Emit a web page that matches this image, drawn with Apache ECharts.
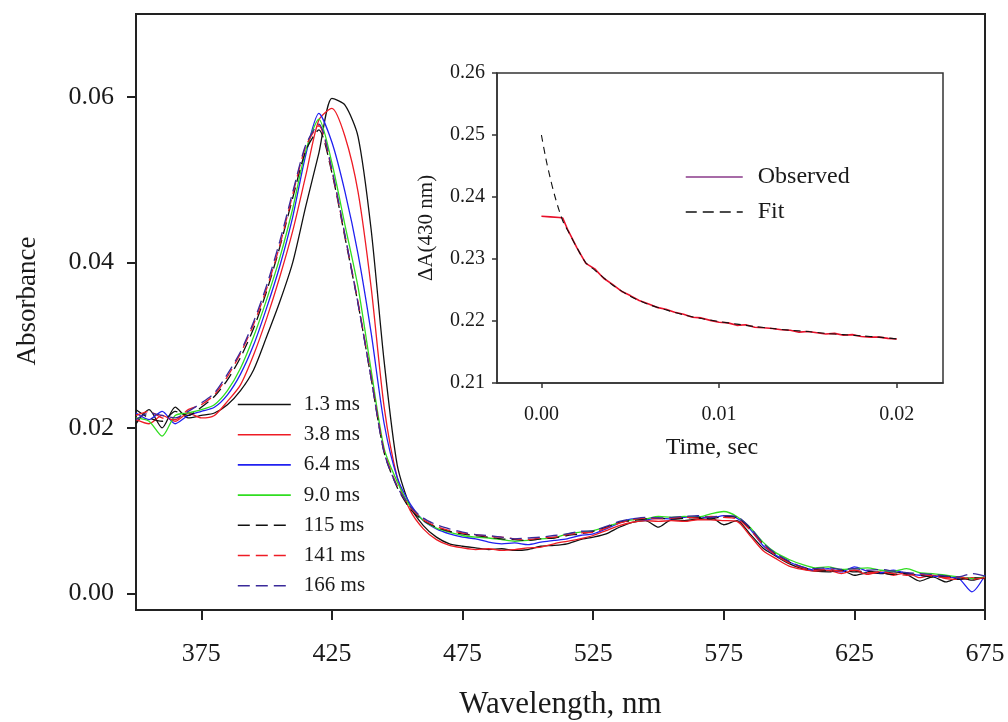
<!DOCTYPE html>
<html><head><meta charset="utf-8">
<script src="https://cdn.jsdelivr.net/npm/echarts@6/dist/echarts.min.js"></script>
<style>html,body{margin:0;padding:0;background:#fff}#c{width:1008px;height:722px}</style>
</head><body><div id="c"></div>
<script>
const wavelengths = [350,355,360,365,370,375,380,385,390,395,400,405,410,415,420,425,430,435,440,445,450,455,460,465,470,475,480,485,490,495,500,505,510,515,520,525,530,535,540,545,550,555,560,565,570,575,580,585,590,595,600,605,610,615,620,625,630,635,640,645,650,655,660,665,670,675];
const seriesNames = ['1.3 ms','3.8 ms','6.4 ms','9.0 ms','115 ms','141 ms','166 ms'];
const abs1_3 = [0.0205,0.0222,0.0200,0.0225,0.0212,0.0215,0.0218,0.0228,0.0245,0.0270,
0.0310,0.0352,0.0400,0.0468,0.0532,0.0598,0.0590,0.0552,0.0440,0.0280,
0.0155,0.0105,0.0082,0.0068,0.0060,0.0057,0.0055,0.0053,0.0054,0.0052,
0.0053,0.0057,0.0058,0.0060,0.0065,0.0068,0.0072,0.0080,0.0086,0.0088,
0.0080,0.0089,0.0088,0.0090,0.0092,0.0083,0.0088,0.0072,0.0055,0.0045,
0.0036,0.0030,0.0027,0.0026,0.0028,0.0022,0.0025,0.0024,0.0026,0.0023,
0.0015,0.0020,0.0014,0.0019,0.0016,0.0020];
const abs3_8 = [0.0210,0.0205,0.0215,0.0208,0.0218,0.0212,0.0215,0.0232,0.0252,0.0288,
0.0332,0.0382,0.0438,0.0505,0.0572,0.0586,0.0552,0.0485,0.0370,0.0225,
0.0140,0.0100,0.0078,0.0065,0.0058,0.0055,0.0053,0.0054,0.0052,0.0053,
0.0055,0.0056,0.0060,0.0063,0.0066,0.0070,0.0076,0.0082,0.0086,0.0088,
0.0087,0.0088,0.0087,0.0089,0.0089,0.0088,0.0087,0.0070,0.0052,0.0042,
0.0033,0.0029,0.0027,0.0028,0.0024,0.0028,0.0023,0.0026,0.0022,0.0025,
0.0019,0.0022,0.0018,0.0017,0.0019,0.0018];
const abs6_4 = [0.0218,0.0210,0.0220,0.0205,0.0215,0.0220,0.0225,0.0240,0.0265,0.0300,
0.0345,0.0395,0.0455,0.0530,0.0580,0.0545,0.0485,0.0410,0.0315,0.0205,
0.0140,0.0108,0.0088,0.0078,0.0072,0.0068,0.0066,0.0062,0.0060,0.0061,
0.0059,0.0062,0.0064,0.0066,0.0070,0.0072,0.0078,0.0085,0.0090,0.0089,
0.0091,0.0090,0.0092,0.0093,0.0091,0.0094,0.0091,0.0078,0.0058,0.0046,
0.0038,0.0032,0.0028,0.0030,0.0026,0.0032,0.0027,0.0025,0.0028,0.0024,
0.0022,0.0021,0.0020,0.0018,0.0002,0.0022];
const abs9_0 = [0.0212,0.0208,0.0190,0.0215,0.0218,0.0222,0.0228,0.0245,0.0272,0.0310,
0.0355,0.0405,0.0465,0.0535,0.0573,0.0520,0.0445,0.0370,0.0270,0.0175,
0.0135,0.0105,0.0088,0.0079,0.0074,0.0070,0.0068,0.0067,0.0065,0.0063,
0.0064,0.0066,0.0067,0.0072,0.0074,0.0076,0.0080,0.0086,0.0089,0.0090,
0.0093,0.0092,0.0093,0.0092,0.0096,0.0099,0.0093,0.0080,0.0062,0.0049,
0.0041,0.0035,0.0031,0.0032,0.0029,0.0030,0.0031,0.0028,0.0027,0.0030,
0.0025,0.0024,0.0022,0.0020,0.0018,0.0020];
const abs115 = [0.0222,0.0212,0.0208,0.0220,0.0215,0.0225,0.0238,0.0258,0.0285,0.0320,
0.0365,0.0418,0.0478,0.0535,0.0560,0.0508,0.0430,0.0350,0.0260,0.0170,
0.0128,0.0102,0.0088,0.0080,0.0075,0.0072,0.0070,0.0068,0.0066,0.0065,
0.0064,0.0066,0.0067,0.0070,0.0072,0.0075,0.0080,0.0086,0.0088,0.0090,
0.0091,0.0090,0.0091,0.0092,0.0090,0.0093,0.0092,0.0079,0.0060,0.0047,
0.0038,0.0031,0.0029,0.0027,0.0028,0.0026,0.0027,0.0025,0.0023,0.0024,
0.0022,0.0020,0.0021,0.0017,0.0019,0.0018];
const abs141 = [0.0215,0.0220,0.0212,0.0210,0.0222,0.0228,0.0240,0.0262,0.0290,0.0325,
0.0368,0.0420,0.0482,0.0540,0.0565,0.0510,0.0432,0.0352,0.0262,0.0172,
0.0130,0.0104,0.0089,0.0081,0.0076,0.0073,0.0071,0.0069,0.0068,0.0066,
0.0065,0.0067,0.0068,0.0071,0.0073,0.0074,0.0079,0.0085,0.0089,0.0091,
0.0090,0.0091,0.0092,0.0091,0.0093,0.0092,0.0090,0.0077,0.0059,0.0046,
0.0037,0.0031,0.0028,0.0029,0.0027,0.0028,0.0025,0.0026,0.0024,0.0022,
0.0023,0.0021,0.0019,0.0020,0.0017,0.0019];
const abs166 = [0.0210,0.0218,0.0215,0.0212,0.0220,0.0230,0.0242,0.0265,0.0292,0.0328,
0.0372,0.0425,0.0485,0.0542,0.0567,0.0512,0.0433,0.0350,0.0260,0.0170,
0.0129,0.0105,0.0091,0.0083,0.0078,0.0074,0.0071,0.0070,0.0068,0.0066,
0.0067,0.0068,0.0070,0.0072,0.0075,0.0076,0.0081,0.0087,0.0090,0.0092,
0.0091,0.0092,0.0093,0.0094,0.0092,0.0094,0.0093,0.0080,0.0061,0.0048,
0.0039,0.0032,0.0030,0.0031,0.0029,0.0030,0.0028,0.0029,0.0027,0.0025,
0.0024,0.0023,0.0021,0.0020,0.0024,0.0021];

const fitTime = [0,0.00025,0.0005,0.00075,0.001,0.00125,0.0015,0.002,0.0025,0.003,0.0035,0.004,0.005,0.006,0.007,0.008,0.009,0.010,0.011,0.012,0.013,0.014,0.015,0.016,0.017,0.018,0.019,0.020];
const fitValues = [0.2500,0.2462,0.2430,0.2402,0.2378,0.2358,0.2345,0.2318,0.2294,0.2282,0.2270,0.2258,0.2240,0.2227,0.2218,0.2210,0.2204,0.2199,0.2195,0.2191,0.2188,0.2185,0.2183,0.2180,0.2178,0.2176,0.2174,0.2171];
const obsTime = [0,0.0005,0.001,0.0012,0.0015,0.002,0.0025,0.003,0.0035,0.004,0.0045,0.005,0.0055,0.006,0.0065,0.007,0.0075,0.008,0.0085,0.009,0.0095,0.010,0.0105,0.011,0.0115,0.012,0.0125,0.013,0.0135,0.014,0.0145,0.015,0.0155,0.016,0.0165,0.017,0.0175,0.018,0.0185,0.019,0.0195,0.020];
const obsValues = [0.2369,0.2368,0.2367,0.2366,0.2346,0.2318,0.2293,0.2284,0.2269,0.2259,0.2248,0.2241,0.2233,0.2228,0.2222,0.2219,0.2214,0.2211,0.2206,0.2205,0.2201,0.2198,0.2197,0.2193,0.2194,0.2190,0.2189,0.2188,0.2186,0.2185,0.2182,0.2183,0.2181,0.2179,0.2180,0.2177,0.2178,0.2175,0.2174,0.2174,0.2172,0.2171];

const xTicksMain = [375,425,475,525,575,625,675];
const yTicksMain = [0,0.02,0.04,0.06];
const xTicksInset = [0,0.01,0.02];
const yTicksInset = [0.21,0.22,0.23,0.24,0.25,0.26];

const FONT = "'Liberation Serif','Times New Roman',serif";
const TXT = '#1a1a1a';
const mainStyles = [
  {color:'#111111', type:'solid'},
  {color:'#ee1c25', type:'solid'},
  {color:'#2020f0', type:'solid'},
  {color:'#30dd20', type:'solid'},
  {color:'#111111', type:[12,6]},
  {color:'#ee1c25', type:[12,6]},
  {color:'#3a2a9a', type:[12,6]}
];
const mainData = [abs1_3, abs3_8, abs6_4, abs9_0, abs115, abs141, abs166];
const hiddenSym = {opacity:0, borderWidth:0, color:'rgba(0,0,0,0)'};

const chart = echarts.init(document.getElementById('c'), null, {renderer:'canvas'});
const series = mainData.map((arr, k) => ({
  name: seriesNames[k], type:'line', xAxisIndex:0, yAxisIndex:0,
  data: wavelengths.map((w,i)=>[w, arr[i]]),
  showSymbol:false, symbol:'none', smooth:0.25, animation:false,
  lineStyle:{color:mainStyles[k].color, width:1.3, type:mainStyles[k].type},
  itemStyle:{color:mainStyles[k].color}, z:3
}));
series.push({
  name:'Observed', type:'line', xAxisIndex:1, yAxisIndex:1,
  data: obsTime.map((t,i)=>[t, obsValues[i]]),
  symbol:'none', showSymbol:false, animation:false,
  lineStyle:{color:'#e8102a', width:1.6}, itemStyle:{color:'#8a3a8a'}, z:4
});
series.push({
  name:'Fit', type:'line', xAxisIndex:1, yAxisIndex:1,
  data: fitTime.map((t,i)=>[t, fitValues[i]]),
  symbol:'none', showSymbol:false, smooth:0.3, animation:false,
  lineStyle:{color:'#111111', width:1.1, type:[7,5]}, itemStyle:{color:'#111111'}, z:5
});

const option = {
  backgroundColor:'#ffffff',
  animation:false,
  grid:[
    {left:136, right:23, top:14, bottom:112, outerBoundsMode:'none', containLabel:false, show:true, borderColor:'#222', borderWidth:2, backgroundColor:'#fff'},
    {left:497, right:65, top:73, bottom:339, outerBoundsMode:'none', containLabel:false, show:true, borderColor:'#333', borderWidth:1.5, backgroundColor:'#fff'}
  ],
  legend:[
    {
      data: seriesNames.map((n,k)=>({name:n, itemStyle:hiddenSym, lineStyle:{color:mainStyles[k].color, type:mainStyles[k].type, width:1.6}})),
      orient:'vertical', left:237, top:394, padding:0, itemWidth:53, itemHeight:14, itemGap:9.2,
      textStyle:{fontFamily:FONT, fontSize:21, color:TXT, padding:[0,0,0,8]},
      selectedMode:false
    },
    {
      data:[
        {name:'Observed', itemStyle:hiddenSym, lineStyle:{color:'#8a3a8a', width:1.5, type:'solid'}},
        {name:'Fit', itemStyle:hiddenSym, lineStyle:{color:'#111111', width:1.3, type:[11,6]}}
      ],
      orient:'vertical', left:685, top:165, padding:0, itemWidth:57, itemHeight:14, itemGap:11,
      textStyle:{fontFamily:FONT, fontSize:24, color:TXT, padding:[0,0,0,10]},
      selectedMode:false, z:10
    }
  ],
  xAxis:[
    {
      type:'value', gridIndex:0, min:350, max:675,
      name:'Wavelength, nm', nameLocation:'middle', nameGap:79,
      nameTextStyle:{fontFamily:FONT, fontSize:31, color:TXT},
      axisLine:{show:true, onZero:false, lineStyle:{color:'#222', width:2}},
      axisTick:{show:true, inside:false, length:10, customValues:xTicksMain, lineStyle:{color:'#222', width:2}},
      axisLabel:{customValues:xTicksMain, margin:31, fontFamily:FONT, fontSize:26, color:TXT, formatter:v=>String(v)},
      splitLine:{show:false}
    },
    {
      type:'value', gridIndex:1, min:-0.0025, max:0.0226,
      name:'Time, sec', nameLocation:'middle', nameGap:53,
      nameTextStyle:{fontFamily:FONT, fontSize:24, color:TXT, padding:[0,16,0,0]},
      axisLine:{show:true, onZero:false, lineStyle:{color:'#333', width:1.5}},
      axisTick:{show:true, inside:false, length:5, customValues:xTicksInset, lineStyle:{color:'#333', width:1.5}},
      axisLabel:{customValues:xTicksInset, margin:22, fontFamily:FONT, fontSize:20, color:TXT, formatter:v=>v.toFixed(2)},
      splitLine:{show:false}
    }
  ],
  yAxis:[
    {
      type:'value', gridIndex:0, min:-0.002, max:0.070,
      name:'Absorbance', nameLocation:'middle', nameGap:95,
      nameTextStyle:{fontFamily:FONT, fontSize:27, color:TXT, padding:[0,0,0,22]},
      axisLine:{show:true, onZero:false, lineStyle:{color:'#222', width:2}},
      axisTick:{show:true, inside:false, length:9, customValues:yTicksMain, lineStyle:{color:'#222', width:2}},
      axisLabel:{customValues:yTicksMain, margin:22, fontFamily:FONT, fontSize:26, color:TXT, formatter:v=>v.toFixed(2)},
      splitLine:{show:false}
    },
    {
      type:'value', gridIndex:1, min:0.21, max:0.26,
      name:'ΔA(430 nm)', nameLocation:'middle', nameGap:60,
      nameTextStyle:{fontFamily:FONT, fontSize:21, color:TXT},
      axisLine:{show:true, onZero:false, lineStyle:{color:'#333', width:1.5}},
      axisTick:{show:true, inside:false, length:5, customValues:yTicksInset, lineStyle:{color:'#333', width:1.5}},
      axisLabel:{customValues:yTicksInset, margin:12, fontFamily:FONT, fontSize:20, color:TXT, formatter:v=>v.toFixed(2)},
      splitLine:{show:false}
    }
  ],
  series: series
};
chart.setOption(option);
</script>
</body></html>
